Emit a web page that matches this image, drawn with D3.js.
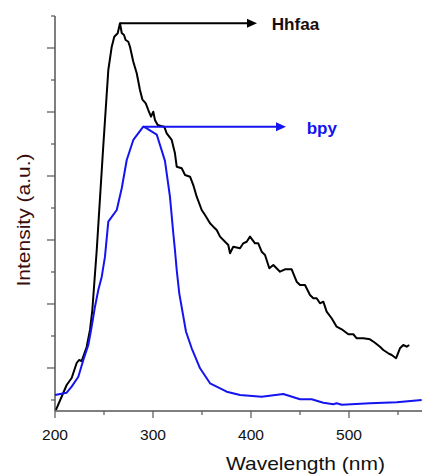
<!DOCTYPE html>
<html>
<head>
<meta charset="utf-8">
<script src="https://cdn.jsdelivr.net/npm/d3@7"></script>
<style>
  html, body { margin: 0; padding: 0; background: #fff; }
  svg { display: block; }
  text { font-family: Arial, "Liberation Sans", Helvetica, sans-serif; }
</style>
</head>
<body>
<div id="chart"></div>
<script>
// ---- Data ----
const hhfaaWavelength = [201.0, 211.9, 217.0, 222.1, 224.5, 227.2, 232.3, 235.7, 238.1, 240.1, 242.6, 249.0, 254.4, 257.9, 260.5, 262.2, 264.0, 266.3, 268.1, 270.4, 272.1, 274.8, 276.5, 279.9, 283.4, 286.7, 289.1, 292.6, 295.2, 298.0, 300.3, 302.0, 304.8, 308.2, 311.5, 314.0, 319.1, 322.4, 324.2, 329.3, 332.7, 337.8, 341.1, 344.6, 349.7, 353.1, 358.2, 361.5, 365.0, 368.4, 373.5, 376.8, 378.6, 381.9, 388.8, 392.1, 395.6, 399.0, 404.1, 407.4, 410.9, 414.3, 418.7, 422.8, 429.6, 434.7, 441.5, 446.6, 450.0, 455.1, 460.2, 463.6, 467.0, 470.4, 473.8, 477.2, 482.3, 487.4, 492.6, 499.3, 504.4, 507.9, 514.6, 521.4, 526.5, 531.6, 535.0, 540.1, 543.6, 548.0, 552.0, 555.4, 558.9, 561.5];
const hhfaaIntensity = [0.344, 0.734, 0.844, 1.078, 1.125, 1.109, 1.328, 1.594, 1.906, 2.328, 2.844, 4.406, 5.656, 6.020, 6.177, 6.203, 6.230, 6.386, 6.234, 6.203, 6.125, 6.098, 6.020, 5.786, 5.605, 5.344, 5.198, 5.136, 5.031, 4.927, 5.005, 4.875, 4.797, 4.781, 4.770, 4.667, 4.563, 4.355, 4.145, 4.120, 4.016, 3.989, 3.859, 3.677, 3.469, 3.391, 3.261, 3.208, 3.156, 3.052, 2.973, 2.922, 2.792, 2.895, 2.870, 2.948, 2.973, 3.052, 2.948, 2.948, 2.817, 2.766, 2.558, 2.609, 2.505, 2.542, 2.542, 2.348, 2.297, 2.297, 2.141, 2.089, 2.089, 2.011, 2.036, 1.880, 1.777, 1.645, 1.605, 1.527, 1.527, 1.464, 1.464, 1.448, 1.395, 1.333, 1.281, 1.230, 1.203, 1.152, 1.308, 1.359, 1.333, 1.359];

const bpyWavelength = [200.0, 211.9, 217.0, 223.8, 228.9, 234.0, 237.4, 240.8, 244.2, 247.7, 251.0, 254.4, 263.0, 268.1, 273.2, 279.9, 290.1, 293.6, 303.8, 312.2, 317.3, 320.7, 322.4, 324.2, 326.8, 333.7, 339.5, 348.0, 358.2, 375.2, 388.8, 410.9, 433.0, 450.0, 461.9, 473.8, 484.0, 487.4, 492.6, 521.4, 548.7, 574.2];
const bpyIntensity = [0.578, 0.614, 0.708, 0.864, 1.125, 1.359, 1.645, 1.958, 2.219, 2.427, 2.739, 3.286, 3.469, 3.808, 4.250, 4.563, 4.770, 4.745, 4.648, 4.237, 3.677, 3.105, 2.844, 2.531, 2.167, 1.567, 1.308, 0.995, 0.761, 0.630, 0.578, 0.552, 0.594, 0.511, 0.511, 0.458, 0.433, 0.448, 0.427, 0.448, 0.464, 0.500];

const seriesNames = ["Hhfaa", "bpy"];
const seriesColors = ["#000000", "#1414f0"];
const labelColors = ["#1a0d0d", "#1414f0"];

const xTickValues = [200, 250, 300, 350, 400, 450, 500, 550];
const xTickLabels = ["200", "", "300", "", "400", "", "500", ""];
const yTickValues = [0.5, 1, 1.5, 2, 2.5, 3, 3.5, 4, 4.5, 5, 5.5, 6, 6.5];

const xTitle = "Wavelength (nm)";
const yTitle = "Intensity (a.u.)";

// ---- Layout ----
const W = 422, H = 476;
const svg = d3.select("#chart").append("svg").attr("width", W).attr("height", H);

const x = d3.scaleLinear().domain([200, 574.5]).range([55, 422]);
const y = d3.scaleLinear().domain([0.328, 6.5]).range([411, 16]);

const axisColor = "#555555";

// X axis
const xAxis = svg.append("g").attr("transform", `translate(0,${y.range()[0]})`);
xAxis.append("line").attr("x1", x.range()[0]).attr("x2", x.range()[1])
  .attr("stroke", axisColor).attr("stroke-width", 1.5);
xTickValues.forEach((v, i) => {
  const major = xTickLabels[i] !== "";
  xAxis.append("line").attr("x1", x(v)).attr("x2", x(v))
    .attr("y1", 0).attr("y2", major ? 7 : 4)
    .attr("stroke", axisColor).attr("stroke-width", 1.2);
  if (major) {
    xAxis.append("text").attr("x", x(v)).attr("y", 29)
      .attr("text-anchor", "middle").attr("font-size", 14.5)
      .attr("fill", "#111")
      .attr("textLength", 26).attr("lengthAdjust", "spacingAndGlyphs")
      .text(xTickLabels[i]);
  }
});

// Y axis
const yAxis = svg.append("g").attr("transform", `translate(${x.range()[0]},0)`);
yAxis.append("line").attr("y1", y.range()[0]).attr("y2", y.range()[1])
  .attr("stroke", axisColor).attr("stroke-width", 1.5);
yTickValues.forEach(v => {
  const major = Number.isInteger(v);
  yAxis.append("line").attr("x1", 0).attr("x2", major ? -8 : -4)
    .attr("y1", y(v)).attr("y2", y(v))
    .attr("stroke", axisColor).attr("stroke-width", 1.2);
});

// Titles
svg.append("text").attr("x", 305.5).attr("y", 470)
  .attr("text-anchor", "middle").attr("font-size", 18.5).attr("fill", "#111")
  .attr("textLength", 159).attr("lengthAdjust", "spacingAndGlyphs")
  .text(xTitle);
svg.append("text").attr("transform", "translate(30,220) rotate(-90)")
  .attr("text-anchor", "middle").attr("font-size", 18.5).attr("fill", "#3a0d0d")
  .attr("textLength", 133).attr("lengthAdjust", "spacingAndGlyphs")
  .text(yTitle);

// Lines
const line = d3.line().x(d => x(d[0])).y(d => y(d[1]));
const series = [
  d3.zip(hhfaaWavelength, hhfaaIntensity),
  d3.zip(bpyWavelength, bpyIntensity)
];
series.forEach((pts, i) => {
  svg.append("path").datum(pts).attr("d", line)
    .attr("fill", "none").attr("stroke", seriesColors[i])
    .attr("stroke-width", 2).attr("stroke-linejoin", "round");
});

// Annotation arrows from each series' peak
const arrowEnds = [406.1, 435.7];   // wavelength of arrow tip
const labelStarts = [421.1, 456.8]; // wavelength of label start
const labelLens = [47.6, 30.3];
series.forEach((pts, i) => {
  const peak = pts.reduce((a, b) => (b[1] > a[1] ? b : a));
  const py = y(peak[1]);
  const xs = x(peak[0]), xe = x(arrowEnds[i]);
  svg.append("line").attr("x1", xs).attr("x2", xe - 8).attr("y1", py).attr("y2", py)
    .attr("stroke", seriesColors[i]).attr("stroke-width", 2);
  svg.append("path")
    .attr("d", `M${xe},${py} L${xe - 10},${py - 4.5} L${xe - 10},${py + 4.5} Z`)
    .attr("fill", seriesColors[i]);
  svg.append("text").attr("x", x(labelStarts[i])).attr("y", py + 7)
    .attr("font-size", 16.5).attr("font-weight", "bold").attr("fill", labelColors[i])
    .attr("textLength", labelLens[i]).attr("lengthAdjust", "spacingAndGlyphs")
    .text(seriesNames[i]);
});
</script>
</body>
</html>
